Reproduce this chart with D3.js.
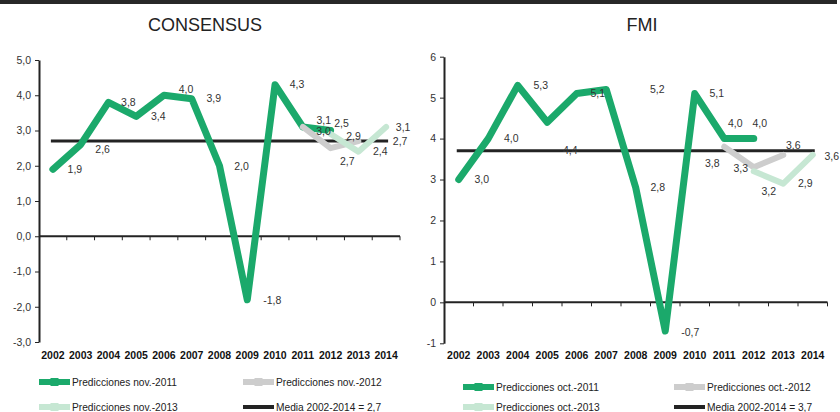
<!DOCTYPE html>
<html>
<head>
<meta charset="utf-8">
<script src="https://cdn.jsdelivr.net/npm/d3@7"></script>
<style>
  body { margin: 0; background: #fff; }
  svg { display: block; font-family: "Liberation Sans", Arial, Helvetica, sans-serif; }
</style>
</head>
<body>
<svg width="840" height="412"></svg>
<script>
// Data
const years = ['2002','2003','2004','2005','2006','2007','2008','2009','2010','2011','2012','2013','2014']

// CONSENSUS
const consNov2011Years = ['2002','2003','2004','2005','2006','2007','2008','2009','2010','2011','2012']
const consNov2011 = [1.9, 2.6, 3.8, 3.4, 4.0, 3.9, 2.0, -1.8, 4.3, 3.1, 3.0]
const consNov2012Years = ['2011','2012','2013']
const consNov2012 = [3.1, 2.5, 2.7]
const consNov2013Years = ['2012','2013','2014']
const consNov2013 = [2.9, 2.4, 3.1]
const consMean = 2.7
const consTicks = [-3, -2, -1, 0, 1, 2, 3, 4, 5]

// FMI
const fmiOct2011Years = ['2002','2003','2004','2005','2006','2007','2008','2009','2010','2011','2012']
const fmiOct2011 = [3.0, 4.0, 5.3, 4.4, 5.1, 5.2, 2.8, -0.7, 5.1, 4.0, 4.0]
const fmiOct2012Years = ['2011','2012','2013']
const fmiOct2012 = [3.8, 3.3, 3.6]
const fmiOct2013Years = ['2012','2013','2014']
const fmiOct2013 = [3.2, 2.9, 3.6]
const fmiMean = 3.7
const fmiTicks = [-1, 0, 1, 2, 3, 4, 5, 6]

// label nudges (dx, dy from the point), null = no label
const consNudge2011 = [[22,0],[22,5],[20,0],[22,0],[22,-6],[22,0],[22,1],[25,1],[22,0],[21,-7],[-7,1]]
const consNudge2012 = [null,[11,-25],[-11,20]]
const consNudge2013 = [[23,2],[22,0],[17,0]]
const fmiNudge2011 = [[23,0],[23,0],[23,0],[23,28],[21,0],[51,0],[22,0],[25,1],[22,0],[11,-15],[6,-15]]
const fmiNudge2012 = [[-12,17],[-13,1],[10,-10]]
const fmiNudge2013 = [[15,20],[22,0],[19,1]]

const green = '#1ba96b'
const grey = '#cdcdcd'
const lightGreen = '#c6e7d3'
const dark = '#232323'

const locale = d3.formatLocale({ decimal: ',', thousands: '.', grouping: [3], currency: ['', '€'], minus: '-' })
const fmt1 = locale.format('.1f')
const fmt0 = locale.format('d')

const svg = d3.select('svg')

// top bar
svg.append('rect').attr('x', 0).attr('y', 0).attr('width', 837).attr('height', 4).attr('fill', '#282828')

function drawPanel(cfg) {
  const g = svg.append('g')
  const x = d3.scaleBand().domain(years).range([cfg.x0, cfg.x1]).padding(0)
  const y = d3.scaleLinear().domain(cfg.domain).range([cfg.yBot, cfg.yTop])
  const cx = d => x(d) + x.bandwidth() / 2

  g.append('text')
    .attr('x', cfg.titleX).attr('y', 30.5)
    .attr('text-anchor', 'middle')
    .attr('font-size', 18).attr('fill', '#222')
    .text(cfg.title)

  // y axis
  const yAxis = g.append('g')
    .attr('transform', `translate(${cfg.x0},0)`)
    .call(d3.axisLeft(y).tickValues(cfg.ticks).tickSize(4).tickSizeOuter(0).tickPadding(4).tickFormat(cfg.fmt))
  yAxis.select('.domain').attr('stroke', dark).attr('stroke-width', 2)
  yAxis.selectAll('.tick line').attr('stroke', dark).attr('stroke-width', 1)
  yAxis.selectAll('.tick text').attr('font-size', 10.5).attr('fill', '#333')
    .attr('font-family', '"Liberation Sans", Arial, sans-serif')

  // zero line with ticks on the band boundaries
  const y0 = y(0)
  g.append('line').attr('x1', cfg.x0).attr('x2', cfg.x1).attr('y1', y0).attr('y2', y0)
    .attr('stroke', dark).attr('stroke-width', 2)
  g.selectAll('.xtick').data(years.slice(1).concat(['end']))
    .enter().append('line')
      .attr('x1', d => d === 'end' ? cfg.x1 : x(d))
      .attr('x2', d => d === 'end' ? cfg.x1 : x(d))
      .attr('y1', y0).attr('y2', y0 + 4)
      .attr('stroke', dark).attr('stroke-width', 1)

  g.selectAll('.year').data(years)
    .enter().append('text')
      .attr('x', cx).attr('y', 359)
      .attr('text-anchor', 'middle')
      .attr('font-size', 10.5).attr('font-weight', 'bold').attr('fill', '#111')
      .text(d => d)

  // mean line
  g.append('line')
    .attr('x1', cx(years[0]) - 2).attr('x2', cx(years[years.length - 1]) + 2)
    .attr('y1', y(cfg.mean)).attr('y2', y(cfg.mean))
    .attr('stroke', dark).attr('stroke-width', 3)
  if (cfg.meanNudge) {
    g.append('text')
      .attr('x', cx(years[years.length - 1]) + cfg.meanNudge[0])
      .attr('y', y(cfg.mean) + cfg.meanNudge[1])
      .attr('dy', '0.35em').attr('text-anchor', 'middle')
      .attr('font-size', 10.5).attr('fill', '#333')
      .text(fmt1(cfg.mean))
  }

  const line = d3.line().x(d => cx(d.year)).y(d => y(d.value))

  cfg.series.forEach(s => {
    const pts = s.years.map((yr, i) => ({ year: yr, value: s.values[i], nudge: s.nudge[i] }))
    g.append('path').datum(pts)
      .attr('d', line)
      .attr('fill', 'none')
      .attr('stroke', s.color)
      .attr('stroke-width', s.width)
      .attr('stroke-linecap', 'round')
      .attr('stroke-linejoin', 'round')
    s.pts = pts
  })

  cfg.series.forEach(s => {
    g.selectAll(null).data(s.pts.filter(p => p.nudge))
      .enter().append('text')
        .attr('x', d => cx(d.year) + d.nudge[0])
        .attr('y', d => y(d.value) + d.nudge[1])
        .attr('dy', '0.35em').attr('text-anchor', 'middle')
        .attr('font-size', 10.5).attr('fill', '#333')
        .text(d => fmt1(d.value))
  })

  // legend
  cfg.legend.forEach(item => {
    const lg = g.append('g')
    lg.append('line')
      .attr('x1', item.x).attr('x2', item.x + 31)
      .attr('y1', item.y).attr('y2', item.y)
      .attr('stroke', item.color).attr('stroke-width', item.width)
    if (item.marker) {
      lg.append('rect')
        .attr('x', item.x + 15.5 - 4).attr('y', item.y - 4)
        .attr('width', 8).attr('height', 8)
        .attr('fill', item.color)
    }
    lg.append('text')
      .attr('x', item.x + 33).attr('y', item.y)
      .attr('dy', '0.35em')
      .attr('font-size', 10.2).attr('fill', '#222')
      .text(item.label)
  })
}

drawPanel({
  title: 'CONSENSUS', titleX: 205,
  x0: 39, x1: 400, yTop: 60, yBot: 342,
  domain: [-3, 5], ticks: consTicks, fmt: fmt1,
  mean: consMean, meanNudge: [14, 0],
  series: [
    { years: consNov2011Years, values: consNov2011, nudge: consNudge2011, color: green, width: 7 },
    { years: consNov2012Years, values: consNov2012, nudge: consNudge2012, color: grey, width: 6 },
    { years: consNov2013Years, values: consNov2013, nudge: consNudge2013, color: lightGreen, width: 6 }
  ],
  legend: [
    { x: 39, y: 382, color: green, width: 6, marker: true, label: 'Predicciones nov.-2011' },
    { x: 243, y: 382, color: grey, width: 6, marker: true, label: 'Predicciones nov.-2012' },
    { x: 39, y: 407, color: lightGreen, width: 6, marker: true, label: 'Predicciones nov.-2013' },
    { x: 243, y: 407, color: dark, width: 4, marker: false, label: 'Media 2002-2014 = ' + fmt1(consMean) }
  ]
})

drawPanel({
  title: 'FMI', titleX: 642,
  x0: 444, x1: 827.5, yTop: 56.7, yBot: 343.3,
  domain: [-1, 6], ticks: fmiTicks, fmt: fmt0,
  mean: fmiMean, meanNudge: null,
  series: [
    { years: fmiOct2011Years, values: fmiOct2011, nudge: fmiNudge2011, color: green, width: 7 },
    { years: fmiOct2012Years, values: fmiOct2012, nudge: fmiNudge2012, color: grey, width: 6 },
    { years: fmiOct2013Years, values: fmiOct2013, nudge: fmiNudge2013, color: lightGreen, width: 6 }
  ],
  legend: [
    { x: 463, y: 387, color: green, width: 6, marker: true, label: 'Predicciones oct.-2011' },
    { x: 674, y: 387, color: grey, width: 6, marker: true, label: 'Predicciones oct.-2012' },
    { x: 463, y: 407, color: lightGreen, width: 6, marker: true, label: 'Predicciones oct.-2013' },
    { x: 674, y: 407, color: dark, width: 4, marker: false, label: 'Media 2002-2014 = ' + fmt1(fmiMean) }
  ]
})
</script>
</body>
</html>
